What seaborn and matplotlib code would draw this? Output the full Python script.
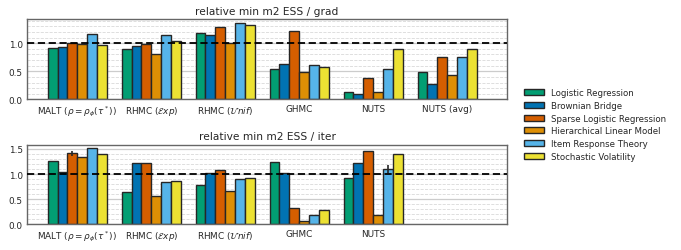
import matplotlib
import matplotlib.pyplot as plt
import numpy as np
import pandas as pd
import seaborn as sns
from matplotlib.patches import Patch
from matplotlib.ticker import MultipleLocator

matplotlib.use("Agg")

BENCHMARKS = [
    "Logistic Regression",
    "Brownian Bridge",
    "Sparse Logistic Regression",
    "Hierarchical Linear Model",
    "Item Response Theory",
    "Stochastic Volatility",
]
COLORS = ["#029e73", "#0173b2", "#d55e00", "#de8f05", "#56b4e9", "#ece133"]

METHODS_GRAD = [
    r"MALT ($\rho = \rho_\phi(\tau^*)$)",
    r"RHMC ($\mathcal{E}xp$)",
    r"RHMC ($\mathcal{U}nif$)",
    "GHMC",
    "NUTS",
    "NUTS (avg)",
]
METHODS_ITER = METHODS_GRAD[:5]

# relative min m2 ESS / grad, one row per method, one column per benchmark
ESS_GRAD = [
    [0.92, 0.93, 1.01, 0.98, 1.17, 0.96],
    [0.90, 0.95, 0.99, 0.80, 1.14, 1.03],
    [1.18, 1.14, 1.29, 1.01, 1.36, 1.32],
    [0.54, 0.63, 1.21, 0.49, 0.61, 0.58],
    [0.13, 0.09, 0.38, 0.13, 0.54, 0.89],
    [0.49, 0.27, 0.76, 0.44, 0.76, 0.89],
]
# relative min m2 ESS / iter
ESS_ITER = [
    [1.26, 1.05, 1.41, 1.34, 1.51, 1.40],
    [0.64, 1.22, 1.22, 0.57, 0.85, 0.87],
    [0.79, 1.02, 1.08, 0.66, 0.90, 0.92],
    [1.24, 1.03, 0.33, 0.07, 0.19, 0.29],
    [0.92, 1.21, 1.46, 0.19, 1.10, 1.39],
]
ERR_ITER = [
    [0.0, 0.0, 0.045, 0.0, 0.0, 0.0],
    [0.0, 0.0, 0.0, 0.0, 0.0, 0.0],
    [0.0, 0.0, 0.0, 0.0, 0.0, 0.0],
    [0.0, 0.0, 0.0, 0.0, 0.0, 0.0],
    [0.0, 0.0, 0.0, 0.0, 0.08, 0.0],
]


def to_long(methods, values):
    rows = []
    for m, vals in zip(methods, values):
        for b, v in zip(BENCHMARKS, vals):
            rows.append({"method": m, "benchmark": b, "value": v})
    return pd.DataFrame(rows)


def draw_panel(ax, methods, values, title, errors=None):
    df = to_long(methods, values)
    sns.barplot(
        data=df, x="method", y="value", hue="benchmark",
        order=methods, hue_order=BENCHMARKS, palette=COLORS,
        errorbar=None, edgecolor="0.15", linewidth=1.0,
        saturation=1, width=0.8, legend=False, ax=ax,
    )
    if errors is not None:
        # patches are ordered hue-major: all methods for benchmark 0, then 1, ...
        patches = ax.patches
        n = len(methods)
        for j in range(len(BENCHMARKS)):
            for i in range(n):
                e = errors[i][j]
                if e > 0:
                    p = patches[j * n + i]
                    ax.errorbar(p.get_x() + p.get_width() / 2, p.get_height(), yerr=e,
                                color="0.15", lw=1.2, capsize=0)
    ax.axhline(1.0, color="black", ls=(0, (4, 2)), lw=1.3, zorder=3)
    ax.set_title(title, fontsize=7.7, pad=4)
    ax.set_xlabel("")
    ax.set_ylabel("")
    ax.set_xlim(-0.68, 5.81)
    ax.yaxis.set_major_locator(MultipleLocator(0.5))
    ax.yaxis.set_minor_locator(MultipleLocator(0.1))
    ax.grid(False, axis="x")
    ax.grid(True, axis="y", which="major", color="0.8", lw=0.9, ls="-")
    ax.grid(True, axis="y", which="minor", color="0.85", lw=0.6, ls="--")
    ax.set_axisbelow(True)
    ax.tick_params(axis="both", labelsize=6.4, length=0, pad=3)
    ax.tick_params(axis="y", which="minor", length=0)
    for s in ax.spines.values():
        s.set_visible(True)
        s.set_color("0.4")
        s.set_linewidth(1.0)


sns.set_theme(style="whitegrid")
plt.rcParams["font.family"] = ["DejaVu Sans"]

fig = plt.figure(figsize=(6.81, 2.51), dpi=100)
ax1 = fig.add_axes([0.0396, 0.600, 0.705, 0.320])
ax2 = fig.add_axes([0.0396, 0.102, 0.705, 0.318])

draw_panel(ax1, METHODS_GRAD, ESS_GRAD, "relative min m2 ESS / grad")
draw_panel(ax2, METHODS_ITER, ESS_ITER, "relative min m2 ESS / iter", ERR_ITER)

handles = [Patch(facecolor=c, edgecolor="0.15", lw=1.0) for c in COLORS]
fig.legend(handles, BENCHMARKS, loc="center left", bbox_to_anchor=(0.758, 0.5),
           frameon=False, fontsize=6.2, handlelength=2.3, handleheight=0.7,
           labelspacing=0.45, handletextpad=0.8)

fig.savefig("out.png", dpi=100)
